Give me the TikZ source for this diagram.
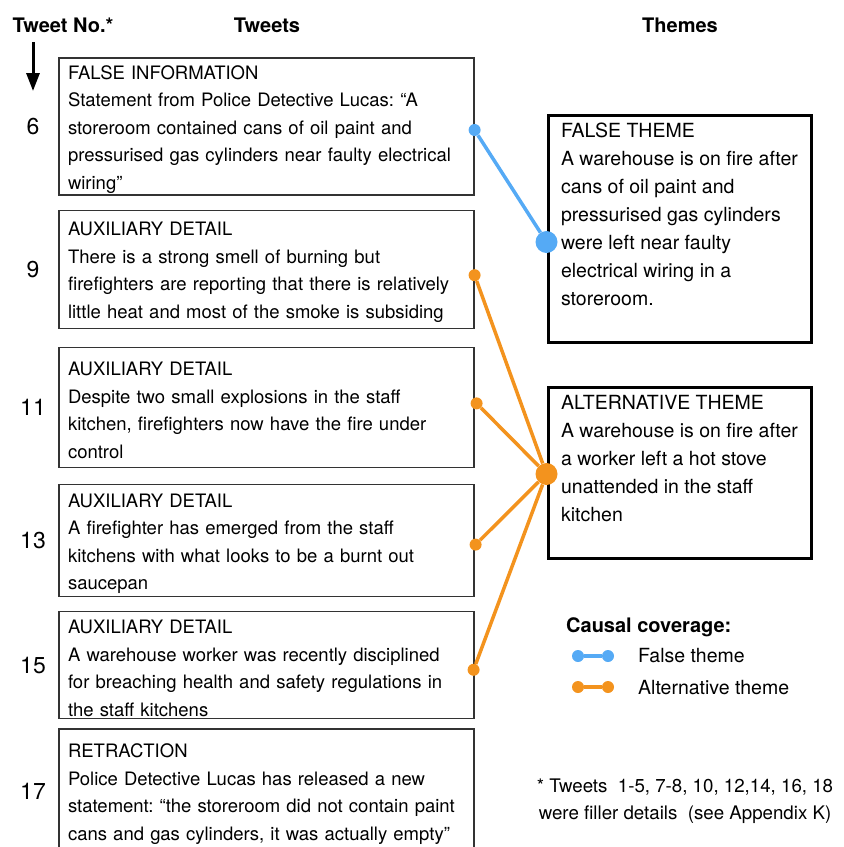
\documentclass[tikz,border=0pt]{standalone}
\usepackage{fontspec}
\setmainfont{TeX Gyre Heros}
\usetikzlibrary{positioning,arrows.meta}
\definecolor{falseblue}{RGB}{85,170,245}
\definecolor{altorange}{RGB}{243,147,30}
\frenchspacing

\begin{document}
\begin{tikzpicture}[x=1pt,y=-1pt,
    tweet node/.style={rectangle,draw=black!80,line width=1.2pt,minimum width=415pt,text width=397pt,inner xsep=9pt,inner ysep=0pt,align=left,font=\fontsize{18.5}{27.5}\selectfont,execute at begin node={\rule{0pt}{19.5pt}}},
    theme node/.style={rectangle,draw=black,line width=3pt,minimum width=263pt,inner xsep=12pt,inner ysep=0pt,align=left,font=\fontsize{19.5}{28}\selectfont},
    num node/.style={inner sep=0pt,font=\fontsize{23}{23}\selectfont},
    head node/.style={anchor=base,inner sep=0pt,font=\fontsize{20}{20}\selectfont\bfseries},
    small dot/.style={circle,fill=#1,minimum size=12pt,inner sep=0pt},
    big dot/.style={circle,fill=#1,minimum size=22pt,inner sep=0pt},
    link/.style={draw=#1,line width=3.5pt}]
    \useasboundingbox (0,0) rectangle (844,847);

    % column headings
    \node[head node] (h1) at (63,32) {Tweet No.*};
    \node[head node] (h2) at (267,32) {Tweets};
    \node[head node] (h3) at (680,32) {Themes};
    \coordinate (arrtop) at (33,42);
    \coordinate (arrbot) at (33,91);
    \draw[line width=3pt,-{Triangle[length=18pt,width=13pt]}] (arrtop) -- (arrbot);

    % tweets
    \node[tweet node,minimum height=137pt] (t6) at (266.5,126.5) {FALSE INFORMATION\\Statement from Police Detective Lucas: “A\\storeroom contained cans of oil paint and\\pressurised gas cylinders near faulty electrical\\wiring”};
    \node[tweet node,minimum height=118pt] (t9) [below=14pt of t6] {AUXILIARY DETAIL\\There is a strong smell of burning but\\firefighters are reporting that there is relatively\\little heat and most of the smoke is subsiding};
    \node[tweet node,minimum height=120pt] (t11) [below=18pt of t9] {AUXILIARY DETAIL\\Despite two small explosions in the staff\\kitchen, firefighters now have the fire under\\control};
    \node[tweet node,minimum height=112pt] (t13) [below=16pt of t11] {AUXILIARY DETAIL\\A firefighter has emerged from the staff\\kitchens with what looks to be a burnt out\\saucepan};
    \node[tweet node,minimum height=107pt] (t15) [below=14pt of t13] {AUXILIARY DETAIL\\A warehouse worker was recently disciplined\\for breaching health and safety regulations in\\the staff kitchens};
    \node[tweet node,minimum height=125pt] (t17) [below=9pt of t15] {RETRACTION\\Police Detective Lucas has released a new\\statement: “the storeroom did not contain paint\\cans and gas cylinders, it was actually empty”};

    \node[num node] (n6) at (33,0 |- t6) {6};
    \node[num node] (n9) at (33,0 |- t9) {9};
    \node[num node] (n11) at (33,0 |- t11) {11};
    \node[num node] (n13) at (33,0 |- t13) {13};
    \node[num node] (n15) at (33,0 |- t15) {15};
    \node[num node] (n17) at (33,0 |- t17) {17};

    % themes
    \node[theme node,minimum height=227pt] (th1) at (679.5,228.5) {FALSE THEME\\A warehouse is on fire after\\cans of oil paint and\\pressurised gas cylinders\\were left near faulty\\electrical wiring in a\\storeroom.\\ \mbox{}};
    \node[theme node,minimum height=171pt] (th2) at (679.5,472.5) {ALTERNATIVE THEME\\A warehouse is on fire after\\a worker left a hot stove\\unattended in the staff\\kitchen\\ \mbox{}};

    % links
    \node[small dot=falseblue] (d6) at ([yshift=-3.5pt]t6.east) {};
    \node[small dot=altorange] (d9) at ([yshift=-6pt]t9.east) {};
    \node[small dot=altorange] (d11) at ([xshift=2pt,yshift=4pt]t11.east) {};
    \node[small dot=altorange] (d13) at ([xshift=1pt,yshift=-4pt]t13.east) {};
    \node[small dot=altorange] (d15) at ([xshift=-1pt,yshift=-4.5pt]t15.east) {};
    \node[big dot=falseblue] (fdot) at ([yshift=-13.5pt]th1.west) {};
    \node[big dot=altorange] (adot) at ([yshift=-1.5pt]th2.west) {};

    \path[link=falseblue] (d6) edge (fdot);
    \path[link=altorange]
        (d9) edge (adot)
        (d11) edge (adot)
        (d13) edge (adot)
        (d15) edge (adot)
    ;

    % legend
    \node[anchor=base west,inner sep=0pt,font=\fontsize{20}{20}\selectfont\bfseries] (lt) at (566,632) {Causal coverage:};
    \node[small dot=falseblue] (lf1) at (578,656) {};
    \node[small dot=falseblue] (lf2) at (608,656) {};
    \node[small dot=altorange] (la1) at (578,687) {};
    \node[small dot=altorange] (la2) at (608,687) {};
    \path[link=falseblue] (lf1) edge (lf2);
    \path[link=altorange] (la1) edge (la2);
    \node[anchor=west,inner sep=0pt,font=\fontsize{19.5}{19.5}\selectfont] (lfl) at (638,656) {False theme};
    \node[anchor=west,inner sep=0pt,font=\fontsize{19.5}{19.5}\selectfont] (lal) at (638,688) {Alternative theme};

    \node[align=center,inner sep=0pt,font=\fontsize{18.7}{27.5}\selectfont] (note) at (685,801) {* Tweets\ \ 1-5, 7-8, 10, 12,14, 16, 18\\were filler details\ \ (see Appendix K)};
\end{tikzpicture}
\end{document}
